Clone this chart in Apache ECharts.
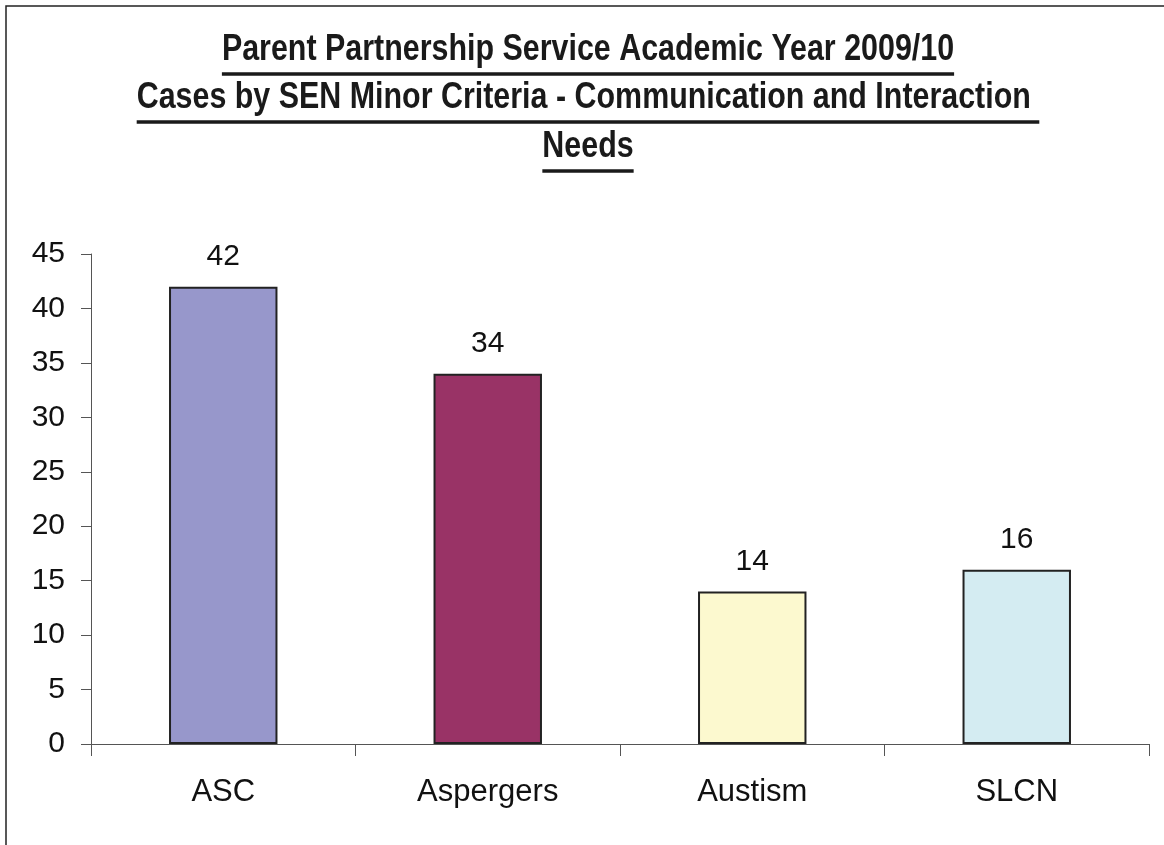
<!DOCTYPE html>
<html>
<head>
<meta charset="utf-8">
<script src="https://cdn.jsdelivr.net/npm/echarts@6/dist/echarts.min.js"></script>
<style>
  html, body { margin: 0; padding: 0; background: #fff; }
  #chart { width: 1164px; height: 845px; }
</style>
</head>
<body>
<div id="chart"></div>
<script>
// Cases by SEN minor criteria, 2009/10
const categories = ['ASC', 'Aspergers', 'Austism', 'SLCN'];
const caseCounts = [42, 34, 14, 16];
const barColors = ['#9797CB', '#993366', '#FCF9CF', '#D4ECF2'];
const titleLines = [
  'Parent Partnership Service Academic Year 2009/10',
  'Cases by SEN Minor Criteria - Communication and Interaction ',
  'Needs'
];

const FONT = '"Liberation Sans", Arial, Helvetica, sans-serif';
const TITLE_SIZE = 36;
const TITLE_SCALE_X = 0.845;   // condensed heading face
const TITLE_CX = 588;
const titleBaselines = [68, 116, 165];

// measure title widths so each line gets an underline of matching length
const ctx = document.createElement('canvas').getContext('2d');
ctx.font = 'bold ' + TITLE_SIZE + 'px ' + FONT;

const graphics = [
  {
    type: 'rect',
    shape: { x: 6, y: 6, width: 1300, height: 1000 },
    style: { fill: 'none', stroke: '#222', lineWidth: 1.5 },
    silent: true
  }
];
titleLines.forEach((line, i) => {
  const w = ctx.measureText(line).width * TITLE_SCALE_X;
  graphics.push({
    type: 'text',
    x: TITLE_CX,
    y: titleBaselines[i],
    scaleX: TITLE_SCALE_X,
    style: {
      text: line,
      font: 'bold ' + TITLE_SIZE + 'px ' + FONT,
      fill: '#1a1a1a',
      textAlign: 'center',
      textVerticalAlign: 'bottom'
    }
  });
  graphics.push({
    type: 'line',
    shape: { x1: TITLE_CX - w / 2, y1: titleBaselines[i] + 6, x2: TITLE_CX + w / 2, y2: titleBaselines[i] + 6 },
    style: { stroke: '#1a1a1a', lineWidth: 3.5 }
  });
});

const chart = echarts.init(document.getElementById('chart'), null, { renderer: 'canvas' });
chart.setOption({
  backgroundColor: '#fff',
  animation: false,
  textStyle: { fontFamily: FONT },
  grid: { left: 91, right: 15, top: 254, bottom: 101, containLabel: false },
  xAxis: {
    type: 'category',
    data: categories,
    boundaryGap: true,
    axisLine: { show: true, lineStyle: { color: '#555', width: 1 } },
    axisTick: { show: true, alignWithLabel: false, length: 12, lineStyle: { color: '#555' } },
    axisLabel: { color: '#111', fontSize: 31, margin: 33 }
  },
  yAxis: {
    type: 'value',
    min: 0,
    max: 45,
    interval: 5,
    splitLine: { show: false },
    axisLine: { show: true, lineStyle: { color: '#555', width: 1 } },
    axisTick: { show: true, length: 10, lineStyle: { color: '#555' } },
    axisLabel: { color: '#111', fontSize: 30, margin: 26 }
  },
  series: [{
    type: 'bar',
    data: caseCounts.map((v, i) => ({
      value: v,
      itemStyle: { color: barColors[i] }
    })),
    barWidth: '41%',
    itemStyle: { borderColor: '#222', borderWidth: 2 },
    label: {
      show: true,
      position: 'top',
      distance: 15,
      color: '#111',
      fontSize: 30
    }
  }],
  graphic: graphics
});
</script>
</body>
</html>
